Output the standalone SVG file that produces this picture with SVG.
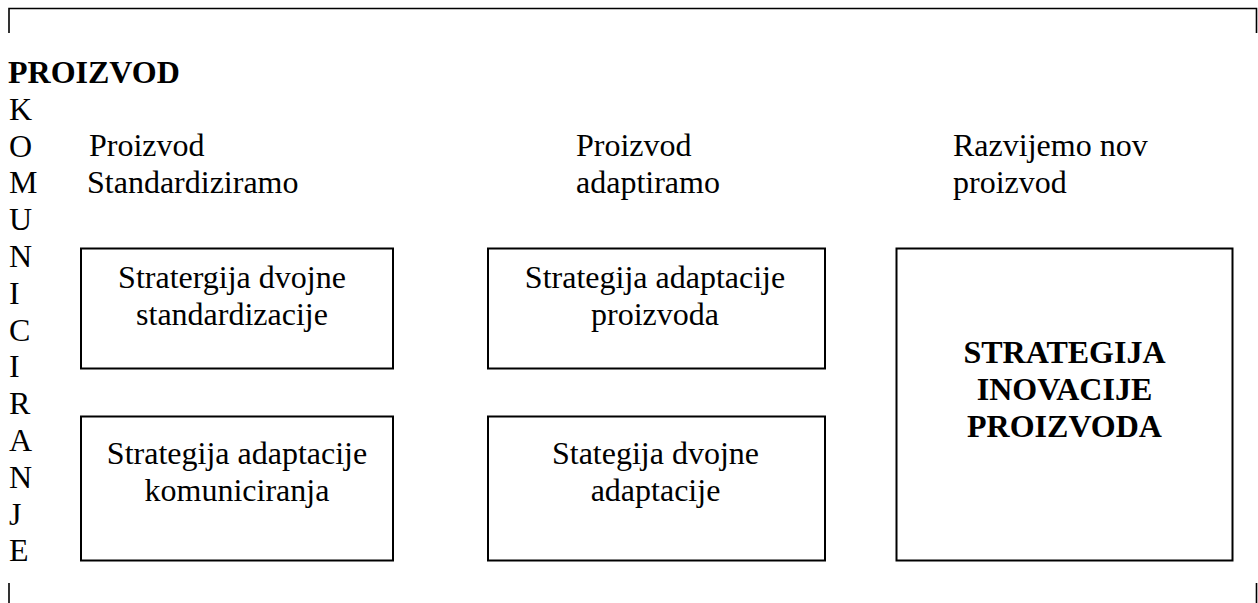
<svg xmlns="http://www.w3.org/2000/svg" width="1258" height="603" viewBox="0 0 1258 603" font-family="'Liberation Serif', Tinos, 'Times New Roman', 'DejaVu Serif', serif" font-size="32">
<style>
text{font-family:'Liberation Serif',Tinos,'Times New Roman','DejaVu Serif',serif;font-size:32px;fill:#000}
.b{font-weight:bold}
.c{text-anchor:middle}
.box{fill:#fff;stroke:#000;stroke-width:2}
.frame{fill:none;stroke:#000;stroke-width:1.6}
</style>
<rect width="1258" height="603" fill="#fff"/>
<g id="frame">
<path class="frame" d="M9,33 V8.5 H1256.5 V33"/>
<path class="frame" d="M9,583 V603 M1256.5,583 V603"/>
</g>
<g id="header">
<text class="b" x="8" y="83">PROIZVOD</text>
</g>
<g id="komuniciranje">
<text x="9" y="119.8">K</text>
<text x="9" y="156.6">O</text>
<text x="9" y="193.4">M</text>
<text x="9" y="230.2">U</text>
<text x="9" y="267">N</text>
<text x="9" y="303.8">I</text>
<text x="9" y="340.6">C</text>
<text x="9" y="377.4">I</text>
<text x="9" y="414.2">R</text>
<text x="9" y="451">A</text>
<text x="9" y="487.8">N</text>
<text x="9" y="524.6">J</text>
<text x="9" y="561.4">E</text>
</g>
<g id="col1-label">
<text x="89" y="155.8">Proizvod</text>
<text x="87" y="192.6">Standardiziramo</text>
</g>
<g id="col2-label">
<text x="576" y="155.8">Proizvod</text>
<text x="576" y="192.6">adaptiramo</text>
</g>
<g id="col3-label">
<text x="953" y="155.8">Razvijemo nov</text>
<text x="953" y="192.6">proizvod</text>
</g>
<g id="box-dvojna-standardizacija">
<rect class="box" x="81" y="248.5" width="312" height="120"/>
<text class="c" x="232" y="288.3">Stratergija dvojne</text>
<text class="c" x="232" y="325">standardizacije</text>
</g>
<g id="box-adaptacija-proizvoda">
<rect class="box" x="488" y="248.5" width="337" height="120"/>
<text class="c" x="655" y="288.3">Strategija adaptacije</text>
<text class="c" x="655" y="325">proizvoda</text>
</g>
<g id="box-adaptacija-komuniciranja">
<rect class="box" x="81" y="416.5" width="312" height="144"/>
<text class="c" x="237" y="464">Strategija adaptacije</text>
<text class="c" x="237" y="500.8">komuniciranja</text>
</g>
<g id="box-dvojna-adaptacija">
<rect class="box" x="488" y="416.5" width="337" height="144"/>
<text class="c" x="655.5" y="464">Stategija dvojne</text>
<text class="c" x="655.5" y="500.8">adaptacije</text>
</g>
<g id="box-inovacija-proizvoda">
<rect class="box" x="896.5" y="248.5" width="336" height="312"/>
<text class="c b" x="1064.5" y="363">STRATEGIJA</text>
<text class="c b" x="1064.5" y="399.8">INOVACIJE</text>
<text class="c b" x="1064.5" y="436.6">PROIZVODA</text>
</g>
<g id="connectors"></g>
</svg>
